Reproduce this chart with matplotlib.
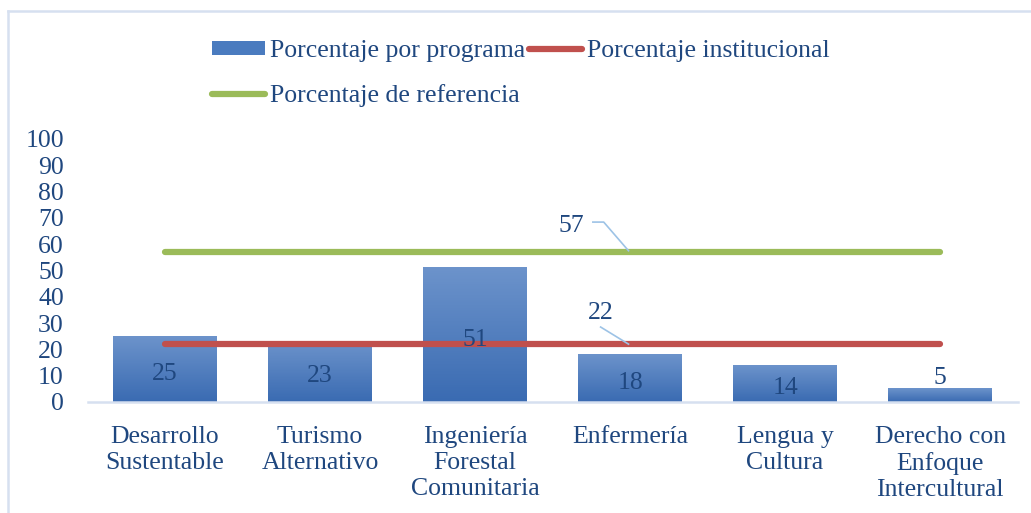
import numpy as np
import matplotlib
matplotlib.use("Agg")
import matplotlib.pyplot as plt
from matplotlib.lines import Line2D
from matplotlib.patches import Patch

programas = ["Desarrollo\nSustentable", "Turismo\nAlternativo", "Ingeniería\nForestal\nComunitaria",
             "Enfermería", "Lengua y\nCultura", "Derecho con\nEnfoque\nIntercultural"]
porcentaje_programa = [25, 23, 51, 18, 14, 5]
porcentaje_institucional = 22
porcentaje_referencia = 57

azul_txt = "#1F477F"
plt.rcParams['font.family'] = ['Liberation Serif', 'DejaVu Serif']
plt.rcParams['font.size'] = 18.5

fig = plt.figure(figsize=(10.31, 5.13), dpi=100)
ax = fig.add_axes([0.0849, 0.2164, 0.9021, 0.5127])

x = np.arange(len(programas))
ancho = 0.67
grad = np.linspace(0, 1, 100).reshape(-1, 1)
cmap = matplotlib.colors.LinearSegmentedColormap.from_list("b", ["#3A6BB2", "#6C93CB"])
for xi, v in zip(x, porcentaje_programa):
    ax.imshow(grad, cmap=cmap, origin="lower", aspect="auto",
              extent=(xi - ancho/2, xi + ancho/2, 0, v), zorder=2)
    yl = v/2 - 1.8 if v > 10 else v + 4
    ax.text(xi, yl, str(v), ha="center", va="center", color=azul_txt, zorder=4)

ax.plot([x[0], x[-1]], [porcentaje_institucional]*2, color="#C0504D", lw=4.5,
        solid_capstyle="round", zorder=3)
ax.plot([x[0], x[-1]], [porcentaje_referencia]*2, color="#9BBB59", lw=4.5,
        solid_capstyle="round", zorder=3)

# etiquetas de las lineas con su guia
guia = "#9DC3E6"
ax.plot([2.76, 2.83, 2.99], [68.4, 68.4, 57.5], color=guia, lw=1.2, zorder=3)
ax.text(2.62, 67.0, str(porcentaje_referencia), ha="center", va="center", color=azul_txt)
ax.plot([2.81, 2.99], [28.5, 22], color=guia, lw=1.2, zorder=3)
ax.text(2.81, 33.8, str(porcentaje_institucional), ha="center", va="center", color=azul_txt)

ax.set_xlim(-0.5, len(programas) - 0.5)
ax.set_ylim(0, 100)
ax.set_yticks(range(0, 101, 10))
ax.set_xticks(x)
ax.set_xticklabels(programas, color=azul_txt, linespacing=1.25)
ax.tick_params(axis="y", length=0, colors=azul_txt, pad=17)
ax.tick_params(axis="x", length=0, pad=17)
for s in ["top", "right", "left"]:
    ax.spines[s].set_visible(False)
ax.spines["bottom"].set_color("#D6E0F0")
ax.spines["bottom"].set_linewidth(1.8)

h_bar = Patch(facecolor="#4A7BBF", edgecolor="none")
h_ref = Line2D([], [], color="#9BBB59", lw=4.5, solid_capstyle="round")
h_inst = Line2D([], [], color="#C0504D", lw=4.5, solid_capstyle="round")
fig.legend([h_bar, h_ref, h_inst],
           ["Porcentaje por programa", "Porcentaje de referencia", "Porcentaje institucional"],
           ncol=2, loc="upper left", bbox_to_anchor=(0.1834, 0.967), frameon=False,
           handlelength=2.05, handleheight=0.5, handletextpad=0.2, columnspacing=0.15,
           labelspacing=0.87, labelcolor=azul_txt)

# marco del grafico
fig.add_artist(Line2D([0.0078, 0.0078], [0, 0.979], color="#D6E0F0", lw=1.8, transform=fig.transFigure))
fig.add_artist(Line2D([0.0078, 1], [0.979, 0.979], color="#D6E0F0", lw=1.8, transform=fig.transFigure))

fig.savefig("out.png", dpi=100)
